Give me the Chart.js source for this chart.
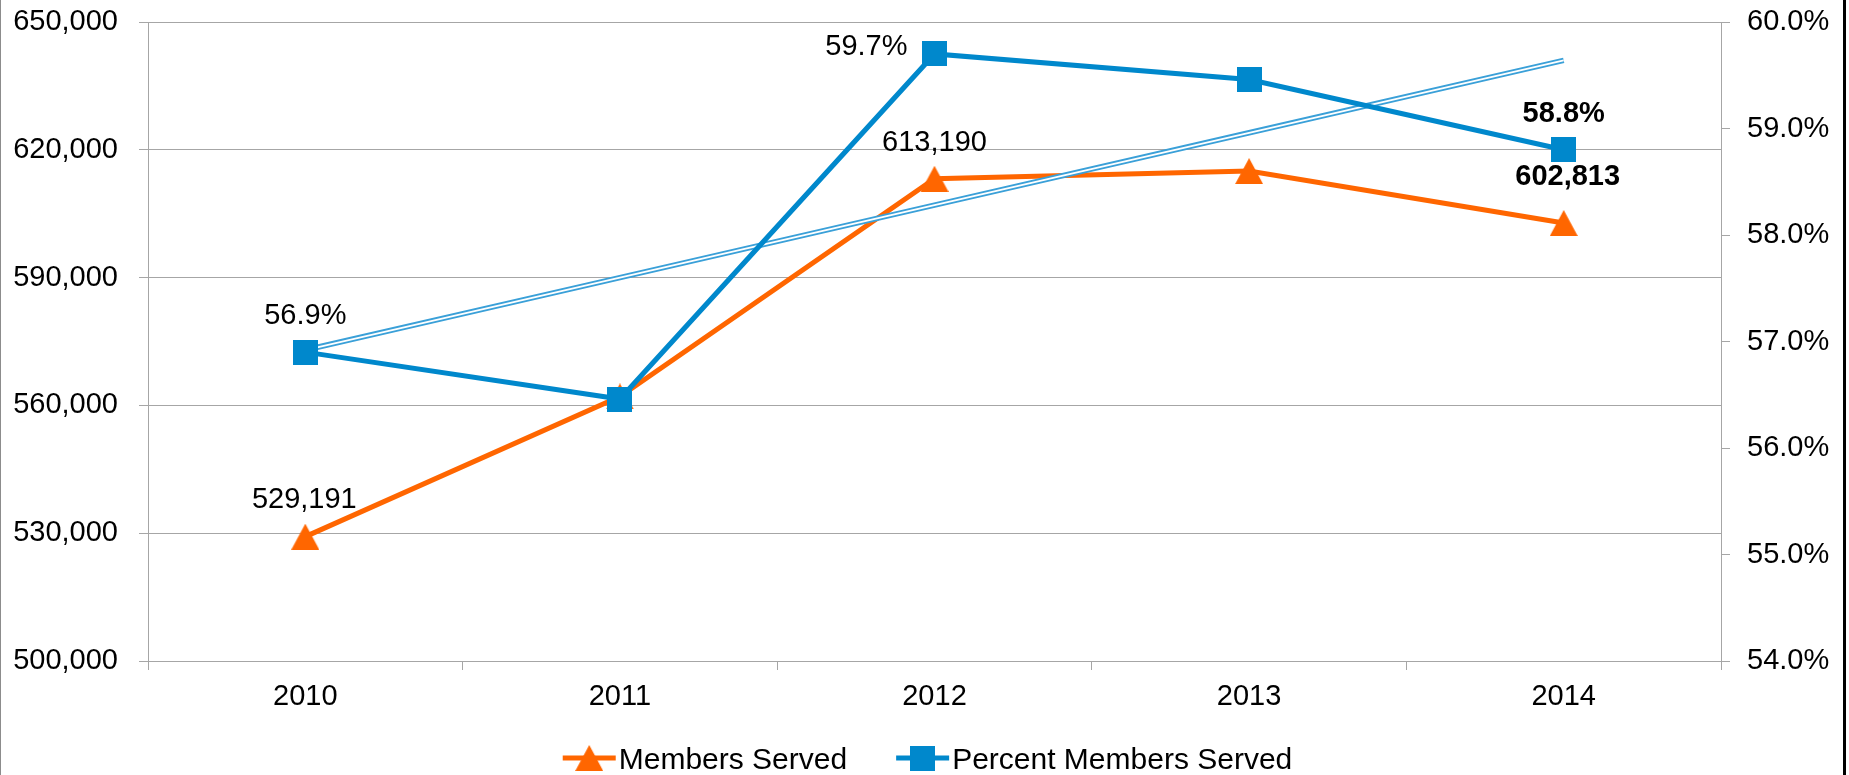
<!DOCTYPE html>
<html>
<head>
<meta charset="utf-8">
<script src="https://cdn.jsdelivr.net/npm/chart.js@4.4.1/dist/chart.umd.min.js"></script>
<style>
  html, body { margin: 0; padding: 0; background: #fff; }
  #wrap { position: relative; width: 1849px; height: 775px; }
</style>
</head>
<body>
<div id="wrap"><canvas id="c" width="1849" height="775"></canvas></div>
<script>
// data
const years = ['2010', '2011', '2012', '2013', '2014'];
const membersServed = [529191, 562100, 613190, 615000, 602813];
const percentServed = [56.9, 56.46, 59.7, 59.46, 58.8];
const percentTrend = [56.92, 57.6, 58.28, 58.96, 59.64];
const leftTicks = [500000, 530000, 560000, 590000, 620000, 650000];
const rightTicks = [54, 55, 56, 57, 58, 59, 60];

const ORANGE = '#ff6600', BLUE = '#0088cc', TREND = '#3aa0d8', GRID = '#a6a6a6';
const FONT = '"Liberation Sans", Arial, sans-serif';

Chart.defaults.font.family = FONT;
Chart.defaults.font.size = 29;
Chart.defaults.color = '#000';

function markerImg(shape, color, w, h) {
  const c = document.createElement('canvas');
  c.width = w; c.height = h;
  const g = c.getContext('2d');
  g.fillStyle = color;
  if (shape === 'tri') {
    g.beginPath(); g.moveTo(w / 2, 0); g.lineTo(w, h); g.lineTo(0, h); g.closePath(); g.fill();
  } else {
    g.fillRect(0, 0, w, h);
  }
  return c;
}
const triImg = markerImg('tri', ORANGE, 28, 26);
const sqImg = markerImg('sq', BLUE, 25, 25);

// which points get a value label, and where it sits relative to the point
const valueLabels = [
  { ds: 0, i: 0, dx: -1, dy: -29, align: 'center', bold: false },
  { ds: 0, i: 2, dx: 0, dy: -28, align: 'center', bold: false },
  { ds: 0, i: 4, dx: 4, dy: -38, align: 'center', bold: true },
  { ds: 1, i: 0, dx: 0, dy: -28, align: 'center', bold: false },
  { ds: 1, i: 2, dx: -27, dy: 1, align: 'right', bold: false },
  { ds: 1, i: 4, dx: 0, dy: -28, align: 'center', bold: true }
];

const labelPlugin = {
  id: 'valueLabels',
  afterDatasetsDraw(chart) {
    const { ctx } = chart;
    ctx.save();
    ctx.fillStyle = '#000';
    ctx.textBaseline = 'alphabetic';
    valueLabels.forEach(l => {
      const pt = chart.getDatasetMeta(l.ds).data[l.i];
      const v = chart.data.datasets[l.ds].data[l.i];
      const txt = l.ds === 0 ? v.toLocaleString('en-US') : v.toFixed(1) + '%';
      ctx.font = (l.bold ? 'bold ' : '') + '29px ' + FONT;
      ctx.textAlign = l.align;
      ctx.fillText(txt, pt.x + l.dx, pt.y + l.dy);
    });
    ctx.restore();
  }
};

const legendPlugin = {
  id: 'lineLegend',
  afterDraw(chart) {
    const { ctx } = chart;
    const items = [
      { text: 'Members Served', img: triImg, color: ORANGE },
      { text: 'Percent Members Served', img: sqImg, color: BLUE }
    ];
    const lineLen = 53, gap = 3, itemGap = 49, y = 758;
    ctx.save();
    ctx.font = '30px ' + FONT;
    const widths = items.map(it => lineLen + gap + ctx.measureText(it.text).width);
    const total = widths.reduce((a, b) => a + b, 0) + itemGap * (items.length - 1);
    let x = chart.width / 2 + 3 - total / 2;
    items.forEach((it, k) => {
      ctx.strokeStyle = it.color; ctx.lineWidth = 5;
      ctx.beginPath(); ctx.moveTo(x, y); ctx.lineTo(x + lineLen, y); ctx.stroke();
      ctx.drawImage(it.img, x + lineLen / 2 - it.img.width / 2, y - it.img.height / 2);
      ctx.fillStyle = '#000'; ctx.textAlign = 'left'; ctx.textBaseline = 'alphabetic';
      ctx.fillText(it.text, x + lineLen + gap, y + 11);
      x += widths[k] + itemGap;
    });
    ctx.restore();
  }
};

const framePlugin = {
  id: 'frame',
  afterDraw(chart) {
    const { ctx } = chart;
    ctx.save();
    ctx.strokeStyle = '#8c8c8c'; ctx.lineWidth = 2;
    ctx.beginPath(); ctx.moveTo(0, 0); ctx.lineTo(0, chart.height); ctx.stroke();
    ctx.strokeStyle = '#000'; ctx.lineWidth = 3;
    ctx.beginPath(); ctx.moveTo(1844.5, 0); ctx.lineTo(1844.5, chart.height); ctx.stroke();
    ctx.restore();
  }
};

// fixed axis sizes; drop the extra space Chart.js keeps for the end labels
const fitY = w => s => { s.width = w; s.paddingTop = 0; s.paddingBottom = 0; };

new Chart(document.getElementById('c'), {
  type: 'line',
  data: {
    labels: years,
    datasets: [
      { label: 'Members Served', data: membersServed, yAxisID: 'y', borderColor: ORANGE, backgroundColor: ORANGE,
        borderWidth: 5, pointStyle: triImg, pointRadius: 14, order: 3 },
      { label: 'Percent Members Served', data: percentServed, yAxisID: 'y1', borderColor: BLUE, backgroundColor: BLUE,
        borderWidth: 5, pointStyle: sqImg, pointRadius: 13, order: 0 },
      { label: 'trend', data: percentTrend, yAxisID: 'y1', borderColor: TREND, borderWidth: 5.5, pointRadius: 0, order: 2 },
      { label: 'trend core', data: percentTrend, yAxisID: 'y1', borderColor: '#fff', borderWidth: 1.8, pointRadius: 0, order: 1 }
    ]
  },
  options: {
    responsive: false, animation: false,
    layout: { padding: { top: 22, left: 0, right: 0, bottom: 0 } },
    plugins: { legend: { display: false }, tooltip: { enabled: false } },
    scales: {
      x: {
        offset: true,
        grid: { offset: true, drawOnChartArea: false, color: GRID, tickLength: 9 },
        border: { color: GRID },
        ticks: { padding: 10, maxRotation: 0 },
        afterFit: s => { s.height = 114; s.paddingLeft = 0; s.paddingRight = 0; }
      },
      y: {
        position: 'left', min: 500000, max: 650000,
        grid: { color: GRID, tickLength: 9 },
        border: { color: GRID },
        ticks: { padding: 21, callback: v => v.toLocaleString('en-US') },
        afterBuildTicks: s => { s.ticks = leftTicks.map(v => ({ value: v })); },
        afterFit: fitY(148)
      },
      y1: {
        position: 'right', min: 54, max: 60,
        grid: { drawOnChartArea: false, color: GRID, tickLength: 9 },
        border: { color: GRID },
        ticks: { padding: 17, callback: v => v.toFixed(1) + '%' },
        afterBuildTicks: s => { s.ticks = rightTicks.map(v => ({ value: v })); },
        afterFit: fitY(128)
      }
    }
  },
  plugins: [labelPlugin, legendPlugin, framePlugin]
});
</script>
</body>
</html>
